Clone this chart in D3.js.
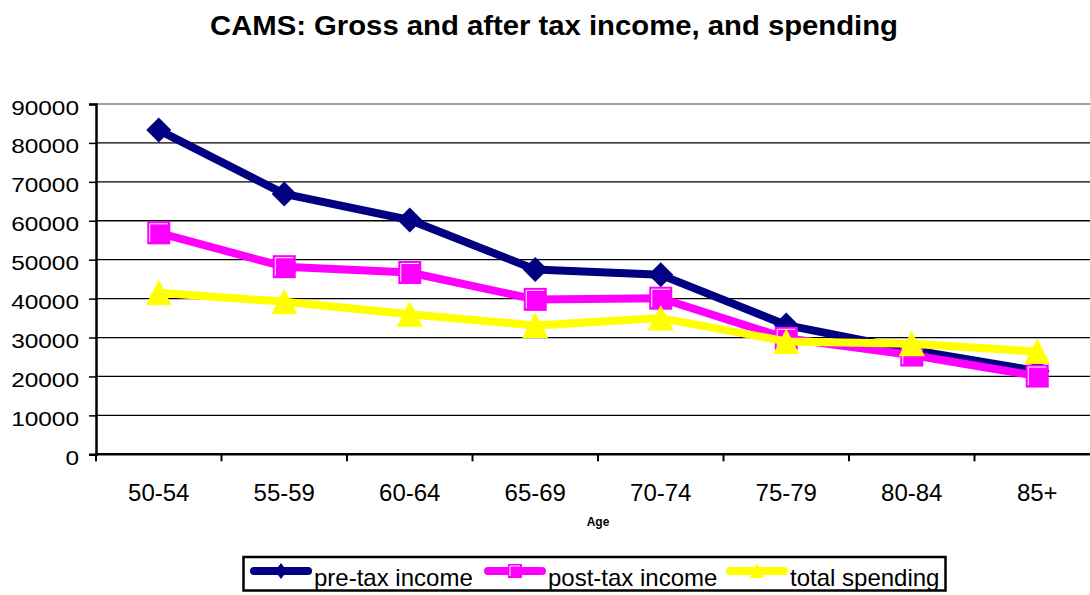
<!DOCTYPE html>
<html><head><meta charset="utf-8">
<script src="https://cdn.jsdelivr.net/npm/d3@7"></script>
<style>body{margin:0;background:#fff;} svg{display:block;font-family:"Liberation Sans",Arial,sans-serif;}</style>
</head><body><svg id="c" width="1090" height="595"></svg>
<script>
const categories = ["50-54","55-59","60-64","65-69","70-74","75-79","80-84","85+"];
const preTax   = [83300, 66900, 60200, 47500, 46100, 33200, 26800, 21400];
const postTax  = [56900, 48200, 46700, 39800, 40100, 29800, 25500, 20100];
const spending = [41500, 39200, 36000, 33100, 35000, 29000, 28400, 26400];
const yTicks = [0,10000,20000,30000,40000,50000,60000,70000,80000,90000];
const seriesNames = ["pre-tax income","post-tax income","total spending"];
const seriesColors = ["#000080","#FF00FF","#FFFF00"];

const svg = d3.select("#c");
const pLeft = 96, pRight = 1100, pTop = 104, pBottom = 454.3;
const x = d3.scaleBand().domain(categories).range([pLeft, pRight]);
const y = d3.scaleLinear().domain([0, 90000]).range([pBottom, pTop]);

// title
svg.append("text").attr("x", 554).attr("y", 35).attr("text-anchor","middle")
  .attr("font-weight","bold").attr("font-size", 28)
  .attr("textLength", 688).attr("lengthAdjust","spacingAndGlyphs")
  .text("CAMS: Gross and after tax income, and spending");

// gridlines
svg.append("g").selectAll("line").data(yTicks.filter(d => d > 0 && d < 90000)).join("line")
  .attr("x1", pLeft).attr("x2", 1090).attr("y1", d => y(d)).attr("y2", d => y(d))
  .attr("stroke","#000").attr("stroke-width",1.3);
// top border
svg.append("line").attr("x1", pLeft).attr("x2", 1090).attr("y1", y(90000)).attr("y2", y(90000))
  .attr("stroke","#808080").attr("stroke-width",1.5);

// y axis
const ya = svg.append("g").attr("transform", `translate(${pLeft},0)`)
  .call(d3.axisLeft(y).tickValues(yTicks).tickSize(7).tickPadding(10).tickFormat(d3.format("d")));
ya.select(".domain").attr("stroke","#000").attr("stroke-width",2.5);
ya.selectAll(".tick line").attr("stroke","#000").attr("stroke-width",1.5);
ya.selectAll("text").attr("font-size",20).attr("font-family","Liberation Sans, Arial, sans-serif")
  .attr("fill","#000").attr("dy","0.5em")
  .each(function(){ const w = this.getComputedTextLength(); d3.select(this).attr("textLength", w*1.22).attr("lengthAdjust","spacingAndGlyphs"); });

// x axis
svg.append("g").selectAll("text").data(categories).join("text")
  .attr("x", d => x(d) + x.bandwidth()/2).attr("y", 501).attr("text-anchor","middle")
  .attr("font-size", 24).attr("fill","#000").text(d => d);
svg.append("line").attr("x1", pLeft).attr("x2", 1090).attr("y1", pBottom).attr("y2", pBottom)
  .attr("stroke","#000").attr("stroke-width",2.5);
svg.append("g").selectAll("line").data(categories).join("line")
  .attr("x1", d => x(d)).attr("x2", d => x(d)).attr("y1", pBottom).attr("y2", pBottom + 7)
  .attr("stroke","#000").attr("stroke-width",2);

svg.append("text").attr("x", 598).attr("y", 525.5).attr("text-anchor","middle")
  .attr("font-weight","bold").attr("font-size", 12).text("Age");

const cx = d => x(d) + x.bandwidth()/2;
const series = [preTax, postTax, spending];
const line = d3.line().x((d,i) => cx(categories[i])).y(d => y(d));

function marker(g, type, color, px, py) {
  if (type === 0) {
    g.append("path").attr("d", `M${px},${py-12.5}L${px+12.5},${py}L${px},${py+12.5}L${px-12.5},${py}Z`).attr("fill", color);
  } else if (type === 1) {
    g.append("rect").attr("x", px-11.5).attr("y", py-11.5).attr("width",23).attr("height",23).attr("fill", color);
    g.append("path").attr("d", `M${px-9},${py+9}V${py-9}H${px+9}`).attr("fill","none").attr("stroke","#fff").attr("stroke-width",1);
  } else {
    g.append("path").attr("d", `M${px},${py-13}L${px+13},${py+12.5}L${px-13},${py+12.5}Z`).attr("fill", color);
  }
}

series.forEach((vals, si) => {
  const g = svg.append("g");
  g.append("path").datum(vals).attr("d", line).attr("fill","none")
    .attr("stroke", seriesColors[si]).attr("stroke-width", 8).attr("stroke-linejoin","round");
  vals.forEach((v, i) => marker(g, si, seriesColors[si], cx(categories[i]), y(v)));
});

// legend
const lg = svg.append("g");
lg.append("rect").attr("x", 243.5).attr("y", 557).attr("width", 702).attr("height", 33.5)
  .attr("fill","#fff").attr("stroke","#000").attr("stroke-width",2.5);
const legX = [250, 484, 726];
seriesNames.forEach((n, i) => {
  const lx = legX[i], ly = 571;
  lg.append("line").attr("x1", lx+4).attr("x2", lx+58).attr("y1", ly).attr("y2", ly)
    .attr("stroke", seriesColors[i]).attr("stroke-width", 8).attr("stroke-linecap","round");
  const mx = lx + 31, my = ly;
  if (i === 0) lg.append("path").attr("d", `M${mx},${my-8}L${mx+6},${my}L${mx},${my+8}L${mx-6},${my}Z`).attr("fill", seriesColors[i]);
  if (i === 1) { lg.append("rect").attr("x", mx-7).attr("y", my-7).attr("width",14).attr("height",14).attr("fill", seriesColors[i]);
    lg.append("path").attr("d", `M${mx-5},${my+5}V${my-5}H${mx+5}`).attr("fill","none").attr("stroke","#fff").attr("stroke-width",1); }
  if (i === 2) lg.append("path").attr("d", `M${mx},${my-8}L${mx+7},${my+7}L${mx-7},${my+7}Z`).attr("fill", seriesColors[i]);
  lg.append("text").attr("x", lx + 64).attr("y", 585.5).attr("font-size", 24).attr("fill","#000").text(n);
});
</script></body></html>
